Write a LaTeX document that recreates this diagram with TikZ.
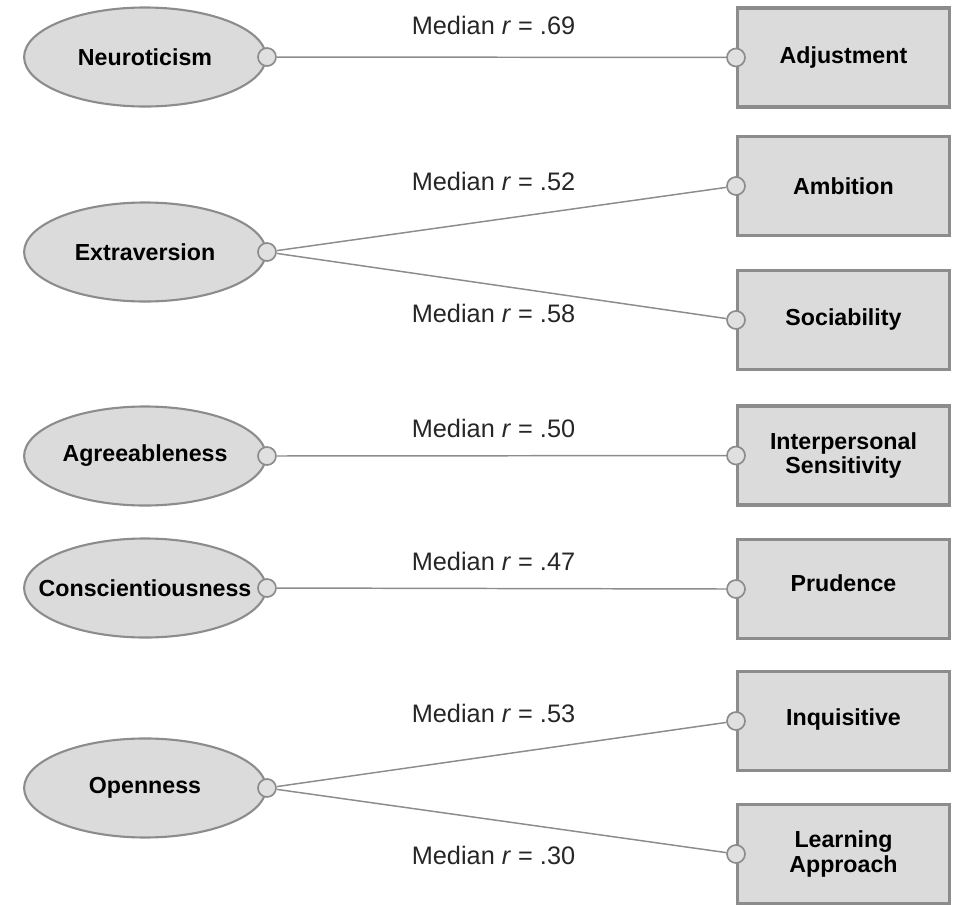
\documentclass[tikz,border=0pt]{standalone}
\usepackage{fontspec}
\setmainfont{Liberation Sans}
\usetikzlibrary{shapes.geometric}

\begin{document}
\begin{tikzpicture}[
  trait/.style={ellipse, draw=black!45, line width=1pt, fill=black!14,
    minimum width=4.03cm, minimum height=1.65cm, inner xsep=-1.2cm, inner ysep=0pt,
    font=\fontsize{11}{11.5}\selectfont\bfseries},
  facet/.style={rectangle, draw=black!45, line width=1.5pt, fill=black!14,
    minimum width=3.53cm, minimum height=1.65cm, align=center,
    font=\fontsize{11}{11.5}\selectfont\bfseries},
  knob/.style={circle, draw=black!45, line width=0.8pt, fill=black!12,
    minimum size=0.3cm, inner sep=0pt},
  link/.style={draw=black!45, line width=0.7pt},
  corr/.style={text=black!85, font=\fontsize{12}{14}\selectfont}
]
\useasboundingbox (0,0) rectangle (16.05,-15.083);

\node[trait] (neu) at (2.417,-0.95) {Neuroticism};
\node[trait] (ext) at (2.417,-4.2) {Extraversion};
\node[trait] (agr) at (2.417,-7.6) {Agreeableness};
\node[trait] (con) at (2.417,-9.8) {Conscientiousness};
\node[trait] (ope) at (2.417,-13.133) {Openness};

\node[facet] (adj) at (14.058,-0.958) {Adjustment};
\node[facet] (amb) at (14.058,-3.1) {Ambition};
\node[facet] (soc) at (14.058,-5.333) {Sociability};
\node[facet] (int) at (14.058,-7.592) {Interpersonal\\Sensitivity};
\node[facet] (pru) at (14.058,-9.817) {\raisebox{6pt}{Prudence}};
\node[facet] (inq) at (14.058,-12.017) {\raisebox{4pt}{Inquisitive}};
\node[facet] (lea) at (14.058,-14.233) {Learning\\Approach};

\foreach \n in {neu,ext,agr,con,ope}
  \node[knob] (\n-k) at (\n.east) {};
\foreach \n in {adj,amb,soc,int,pru,inq,lea}
  \node[knob] (\n-k) at (\n.west) {};

\draw[link] (neu-k) -- (adj-k);
\draw[link] (ext-k) -- (amb-k);
\draw[link] (ext-k) -- (soc-k);
\draw[link] (agr-k) -- (int-k);
\draw[link] (con-k) -- (pru-k);
\draw[link] (ope-k) -- (inq-k);
\draw[link] (ope-k) -- (lea-k);

\node[corr] (r-adj) at (8.225,-0.417) {Median \textit{r} = .69};
\node[corr] (r-amb) at (8.225,-3.017) {Median \textit{r} = .52};
\node[corr] (r-soc) at (8.225,-5.217) {Median \textit{r} = .58};
\node[corr] (r-int) at (8.225,-7.133) {Median \textit{r} = .50};
\node[corr] (r-pru) at (8.225,-9.35) {Median \textit{r} = .47};
\node[corr] (r-inq) at (8.225,-11.883) {Median \textit{r} = .53};
\node[corr] (r-lea) at (8.225,-14.25) {Median \textit{r} = .30};
\end{tikzpicture}
\end{document}
